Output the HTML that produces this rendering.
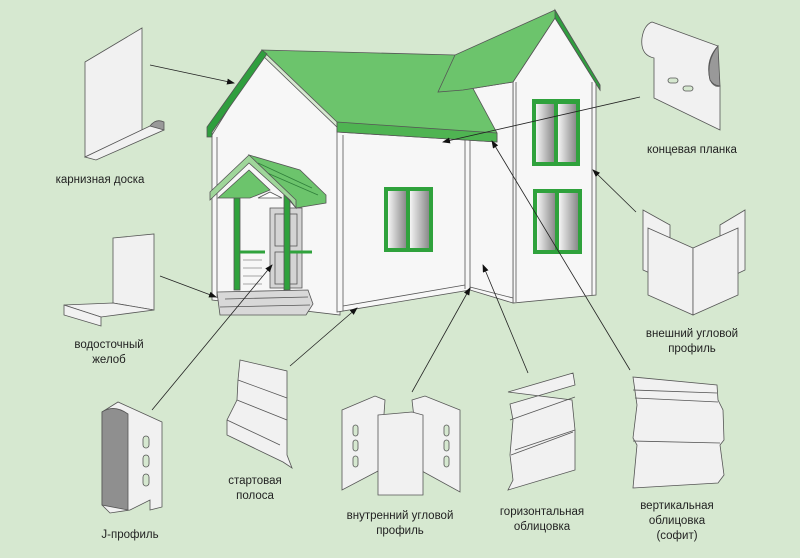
<!DOCTYPE html>
<html><head><meta charset="utf-8"><style>
html,body{margin:0;padding:0;background:#d6e8d0;}
svg{display:block}
text{font-family:"Liberation Sans",sans-serif;font-size:11.5px;fill:#222;text-anchor:middle}
</style></head><body>
<svg width="800" height="558" viewBox="0 0 800 558" xmlns="http://www.w3.org/2000/svg">
<defs>
<marker id="a" markerWidth="8" markerHeight="6" refX="7" refY="3" orient="auto" markerUnits="userSpaceOnUse"><path d="M0,0 L8,3 L0,6z" fill="#111"/></marker>
<linearGradient id="g" x1="0" x2="1"><stop offset="0" stop-color="#f4f4f4"/><stop offset="1" stop-color="#8a8a8a"/></linearGradient>
</defs>
<rect width="800" height="558" fill="#d6e8d0"/>
<g stroke="#555" stroke-width="0.8">
<polygon points="513,82 555,18 596,82 596,295 513,303" fill="#f7f7f7"/>
<polygon points="463,90 513,82 513,303 470,290" fill="#f7f7f7"/>
<line x1="470" y1="287" x2="513" y2="298" />
<polygon points="212,135 262,55 340,130 340,315 212,300" fill="#f7f7f7"/>
<polygon points="337,130 470,140 470,290 337,312" fill="#f7f7f7"/>
<line x1="343" y1="135" x2="343" y2="311"/>
<line x1="465" y1="140" x2="465" y2="289"/>
<line x1="516" y1="82" x2="516" y2="302"/>
<line x1="592" y1="82" x2="592" y2="295"/>
<line x1="217" y1="137" x2="217" y2="298"/>
<line x1="343" y1="306" x2="465" y2="285"/>
<polygon points="262,50 455,55 497,133 497,142 337,132 337,122" fill="#6cc46c"/>
<polygon points="337,122 497,133 497,142 337,132" fill="#4fb452"/>
<polygon points="262,50 267,54 212,132 212,137 207,137 207,127" fill="#2f9e3e"/>
<polygon points="438,92 455,55 555,10 600,85 600,90 555,18 513,82 463,90" fill="#6cc46c"/>
<polygon points="555,10 600,85 600,90 555,18" fill="#2f9e3e"/>
<rect x="384" y="187" width="49" height="65" fill="#2fa23c" stroke="none"/>
<rect x="388" y="191" width="18" height="57" fill="url(#g)" stroke="none"/>
<rect x="410" y="191" width="19" height="57" fill="url(#g)" stroke="none"/>
<rect x="532" y="99" width="48" height="67" fill="#2fa23c" stroke="none"/>
<rect x="536" y="104" width="18" height="58" fill="url(#g)" stroke="none"/>
<rect x="558" y="104" width="18" height="58" fill="url(#g)" stroke="none"/>
<rect x="533" y="189" width="49" height="65" fill="#2fa23c" stroke="none"/>
<rect x="537" y="193" width="18" height="57" fill="url(#g)" stroke="none"/>
<rect x="559" y="193" width="19" height="57" fill="url(#g)" stroke="none"/>
<!-- porch -->
<rect x="270" y="208" width="32" height="80" fill="#d4d4d4"/>
<rect x="275" y="214" width="22" height="32" fill="none"/>
<rect x="275" y="252" width="22" height="32" fill="none"/>
<rect x="234" y="190" width="6" height="100" fill="#2fa23c"/>
<rect x="284" y="190" width="6" height="100" fill="#2fa23c"/>
<line x1="240" y1="252" x2="265" y2="252" stroke="#2fa23c" stroke-width="3"/>
<line x1="290" y1="252" x2="312" y2="252" stroke="#2fa23c" stroke-width="3"/>
<g stroke="#888"><line x1="243" y1="260" x2="262" y2="260"/><line x1="243" y1="268" x2="262" y2="268"/><line x1="243" y1="276" x2="262" y2="276"/><line x1="243" y1="284" x2="262" y2="284"/></g>
<polygon points="249,155 300,170 326,195 326,203 296,208 270,178" fill="#6cc46c"/>
<line x1="258" y1="163" x2="312" y2="188" stroke="#2f7f3a"/>
<line x1="265" y1="172" x2="318" y2="195" stroke="#2f7f3a"/>
<polygon points="249,155 210,192 210,200 249,163 290,200 296,208 296,200" fill="#9fd69a"/>
<polygon points="218,198 249,170 270,190 250,198" fill="#6cc46c"/>
<polygon points="258,198 270,192 282,198" fill="#fff"/>
<polygon points="217,292 308,290 313,304 306,315 220,315" fill="#d8d8d8"/>
<line x1="225" y1="299" x2="308" y2="297"/><line x1="220" y1="307" x2="310" y2="305"/>
</g>
<g stroke="#222" stroke-width="0.8" fill="none" marker-end="url(#a)">
<line x1="150" y1="65" x2="234" y2="83"/>
<line x1="160" y1="276" x2="216" y2="297"/>
<line x1="152" y1="410" x2="272" y2="265"/>
<line x1="290" y1="366" x2="357" y2="308"/>
<line x1="412" y1="392" x2="470" y2="288"/>
<line x1="528" y1="373" x2="483" y2="265"/>
<line x1="630" y1="370" x2="492" y2="141"/>
<line x1="640" y1="97" x2="443" y2="142"/>
<line x1="636" y1="212" x2="593" y2="170"/>
</g>
<g stroke="#555" stroke-width="0.8" fill="#f1f1f1">
<polygon points="85,62 142,28 142,130 85,157"/>
<polygon points="85,157 150,126 160,122 164,130 96,160"/>
<path d="M150,126 q6,-8 14,-4 l0,8z" fill="#999"/>
<polygon points="113,238 154,234 154,310 113,303"/>
<polygon points="64,305 113,303 154,310 101,317"/>
<polygon points="64,305 101,317 101,326 64,315"/>
<polygon points="102,412 118,402 162,422 162,507 150,510 150,500 130,510 110,513 102,505"/>
<path d="M102,412 q12,-8 26,2 l0,96 l-26,-5z" fill="#8f8f8f"/>
<g fill="#d6e8d0"><rect x="143" y="436" width="6" height="12" rx="3"/><rect x="143" y="455" width="6" height="12" rx="3"/><rect x="143" y="474" width="6" height="12" rx="3"/></g>
<polygon points="240,360 287,371 287,455 292,468 283,462 227,435 227,420 237,400 238,380"/>
<line x1="237" y1="400" x2="287" y2="420"/><line x1="238" y1="380" x2="287" y2="398"/><line x1="227" y1="420" x2="280" y2="445"/>
<polygon points="342,410 375,396 385,400 380,470 342,490"/>
<polygon points="412,400 425,396 460,410 460,492 420,470"/>
<polygon points="378,415 412,412 423,415 423,495 378,495"/>
<g fill="#d6e8d0"><rect x="353" y="425" width="5" height="11" rx="2.5"/><rect x="353" y="440" width="5" height="11" rx="2.5"/><rect x="353" y="456" width="5" height="11" rx="2.5"/><rect x="444" y="425" width="5" height="11" rx="2.5"/><rect x="444" y="440" width="5" height="11" rx="2.5"/><rect x="444" y="456" width="5" height="11" rx="2.5"/></g>
<polygon points="508,392 573,373 575,385 510,404 513,420 510,455 513,480 508,490 575,470 575,430 572,400"/>
<line x1="510" y1="420" x2="575" y2="397"/><line x1="515" y1="450" x2="575" y2="430"/><line x1="511" y1="455" x2="573" y2="432"/>
<polygon points="633,377 717,385 718,400 723,410 724,440 720,445 724,475 718,483 633,488 637,445 633,438 637,405"/>
<line x1="633" y1="390" x2="717" y2="393"/><line x1="635" y1="398" x2="718" y2="402"/><line x1="633" y1="441" x2="720" y2="443"/>
<!-- end strip -->
<path d="M652,22 L718,46 Q705,60 710,80 Q714,88 720,86 L720,130 L654,98 L654,58 Q640,55 642,38 Q644,25 652,22z"/>
<path d="M718,46 q-12,15 -8,34 q4,6 10,6z" fill="#999"/>
<g fill="#d6e8d0"><rect x="668" y="78" width="10" height="5" rx="2.5"/><rect x="683" y="86" width="10" height="5" rx="2.5"/></g>
<polygon points="643,210 670,225 670,282 643,270"/>
<polygon points="720,225 745,210 745,270 720,282"/>
<polygon points="648,228 693,248 693,315 648,295"/>
<polygon points="693,248 738,228 738,295 693,315"/>
</g>
<text x="100" y="183">карнизная доска</text>
<text x="109" y="348">водосточный</text><text x="109" y="363">желоб</text>
<text x="130" y="538">J-профиль</text>
<text x="255" y="484">стартовая</text><text x="255" y="499">полоса</text>
<text x="400" y="519">внутренний угловой</text><text x="400" y="534">профиль</text>
<text x="542" y="515">горизонтальная</text><text x="542" y="530">облицовка</text>
<text x="677" y="509">вертикальная</text><text x="677" y="524">облицовка</text><text x="677" y="539">(софит)</text>
<text x="692" y="153">концевая планка</text>
<text x="692" y="337">внешний угловой</text><text x="692" y="352">профиль</text>
</svg>
</body></html>
